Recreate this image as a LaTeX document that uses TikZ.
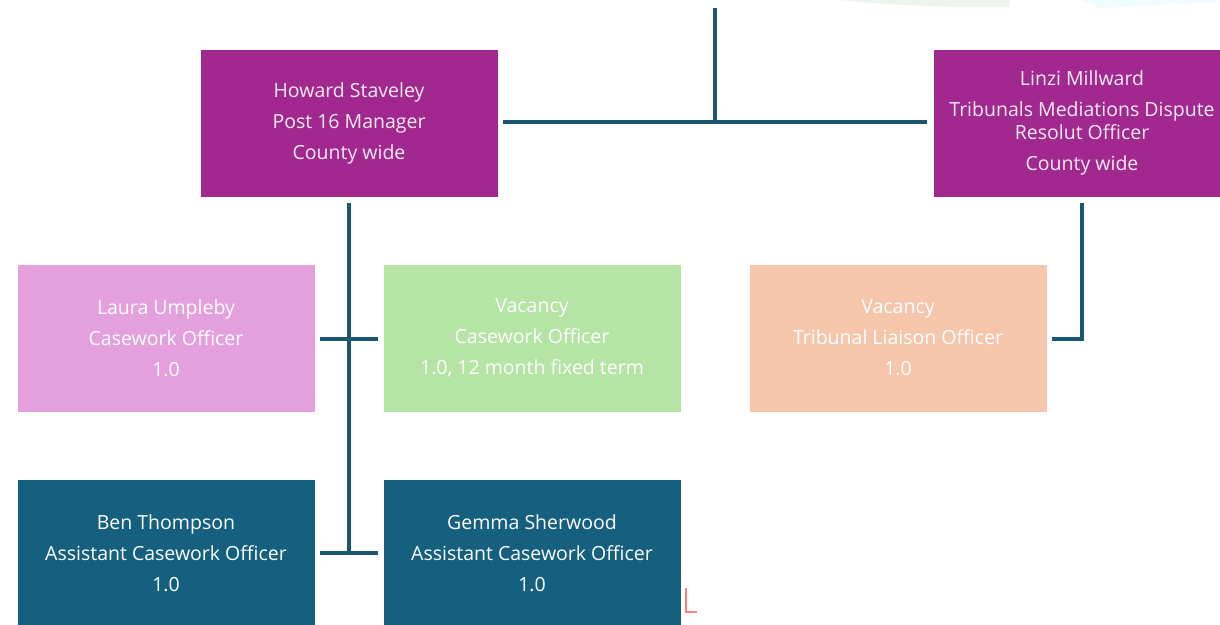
\documentclass[tikz,border=0pt]{standalone}
\usepackage{fontspec}
\setmainfont{Open Sans}
\usetikzlibrary{calc}
\definecolor{mgrpurple}{HTML}{A1288F}
\definecolor{casepink}{HTML}{E3A0DC}
\definecolor{casegreen}{HTML}{B6E4A4}
\definecolor{tribpeach}{HTML}{F5C6AC}
\definecolor{assistteal}{HTML}{155F7F}
\definecolor{linkblue}{HTML}{1B5672}
\begin{document}
\begin{tikzpicture}[x=1pt,y=-1pt,
    post/.style={minimum width=297pt,minimum height=147pt,inner sep=0pt,
      align=center,font=\fontsize{19.5}{23}\selectfont,text=white},
    link/.style={draw=linkblue,line width=4pt}]
    \useasboundingbox (0,0) rectangle (1220,624);
    \clip (0,0) rectangle (1220,624);
    % faint backdrop at the top edge
    \fill[green!40!black!7] (840,0) .. controls (900,6) and (960,8) .. (1010,7) -- (1010,0) -- cycle;
    \fill[blue!20!cyan!6] (1100,8) .. controls (1150,6) and (1190,3) .. (1220,2) -- (1220,0) -- (1080,0) -- cycle;
    % managers
    \node[post,fill=mgrpurple,text=white!90!mgrpurple] (howard) at (349,123)
      {Howard Staveley\\[8pt]Post 16 Manager\\[8pt]County wide};
    \node[post,fill=mgrpurple,text=white!90!mgrpurple] (linzi) at (1082,123)
      {Linzi Millward\\[8pt]Tribunals Mediations Dispute\\Resolut Officer\\[8pt]County wide};
    % casework officers
    \node[post,fill=casepink] (laura) at (166,338) {Laura Umpleby\\[8pt]Casework Officer\\[8pt]1.0};
    \node[post,fill=casegreen] (vacA) at (532,338) {Vacancy\\[8pt]Casework Officer\\[8pt]1.0, 12 month fixed term};
    \node[post,fill=tribpeach] (vacB) at (898,338) {Vacancy\\[8pt]Tribunal Liaison Officer\\[8pt]1.0};
    % assistants
    \node[post,fill=assistteal] (ben) at (166,553) {Ben Thompson\\[8pt]Assistant Casework Officer\\[8pt]1.0};
    \node[post,fill=assistteal] (gemma) at (532,553) {Gemma Sherwood\\[8pt]Assistant Casework Officer\\[8pt]1.0};
    % connectors
    \coordinate (top) at (715,8);
    \draw[link] ($(howard.east)+(5,-1)$) -- ($(linzi.west)+(-6,-1)$);
    \draw[link] (top) -- (top|-howard.east);
    \draw[link] ($(howard.south)+(0,6)$) -- ($(howard.south)+(0,358)$);
    \draw[link] ($(laura.east)+(5,1)$) -- ($(vacA.west)+(-5,1)$);
    \draw[link] ($(ben.east)+(5,0)$) -- ($(gemma.west)+(-5,0)$);
    \draw[link] ($(linzi.south)+(0,6)$) |- ($(vacB.east)+(5,1)$);
    % stray mark
    \draw[red!50,line width=1.5pt] (686,588) -- (686,612) -- (697,612);
  \end{tikzpicture}
\end{document}
